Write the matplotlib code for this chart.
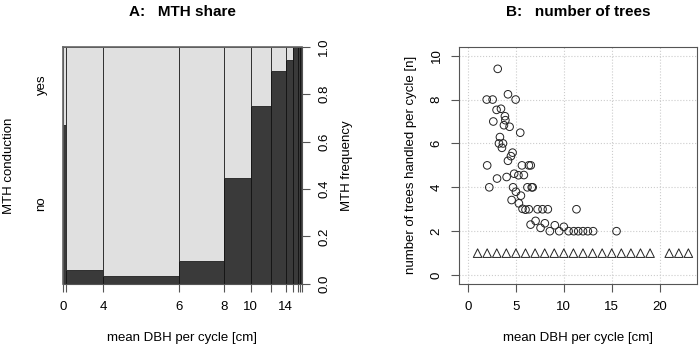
import numpy as np
import matplotlib.pyplot as plt

plt.rcParams['font.family'] = ['Liberation Sans', 'DejaVu Sans']

# spineplot data (panel A)
breaks = [0, 2, 4, 6, 8, 10, 12, 14, 16, 18, 20, 22]
counts = [3, 37, 76, 45, 26, 20, 15, 7, 5, 2, 2]
share_no = [0.67, 0.06, 0.035, 0.095, 0.445, 0.75, 0.90, 0.945, 1.0, 1.0, 1.0]
break_labels = ['0', '', '4', '6', '8', '10', '', '14', '', '', '', '']

# scatter data (panel B)
dbh_multi = [1.95, 2.57, 3.1, 4.17, 4.97, 2.98, 3.44, 3.85, 3.9, 2.64, 3.75, 4.34,
             5.45, 3.33, 3.23, 3.65, 3.54, 4.65, 4.48, 4.17, 2.0, 5.63, 6.35, 6.55,
             3.03, 4.03, 4.82, 5.26, 5.83, 2.22, 4.7, 6.2, 6.65, 6.75, 5.0, 5.52,
             4.55, 5.31, 5.69, 6.0, 6.35, 7.26, 7.78, 8.33, 11.32, 6.53, 7.05, 7.57,
             8.02, 8.54, 9.06, 9.52, 10.0, 10.5, 11.04, 11.5, 12.0, 12.5, 13.06, 15.5]
n_multi = [8.0, 8.0, 9.4, 8.24, 8.0, 7.53, 7.58, 7.24, 7.06, 7.0, 6.83, 6.76,
           6.49, 6.29, 6.0, 6.0, 5.8, 5.58, 5.42, 5.21, 5.0, 5.0, 5.0, 5.0,
           4.4, 4.47, 4.62, 4.55, 4.56, 4.0, 4.0, 4.0, 4.0, 4.0, 3.8, 3.62,
           3.42, 3.27, 3.02, 2.98, 3.0, 3.0, 3.0, 3.0, 3.0, 2.3, 2.47, 2.15,
           2.36, 2.0, 2.27, 2.0, 2.2, 2.0, 2.0, 2.0, 2.0, 2.0, 2.0, 2.0]
dbh_single = [1, 2, 3, 4, 5, 6, 7, 8, 9, 10, 11, 12, 13, 14, 15, 16, 17, 18, 19, 21, 22, 23]
n_single = [1] * len(dbh_single)

fig = plt.figure(figsize=(7, 3.5), dpi=100)
dark = '#3a3a3a'
light = '#e0e0e0'
axcol = '#555555'

# PANEL A: SPINEPLOT
ax1 = fig.add_axes([0.09, 0.189, 0.341, 0.677])
cum = np.concatenate([[0], np.cumsum(counts)]) / float(sum(counts))
for i in range(len(counts)):
    w = cum[i + 1] - cum[i]
    ax1.bar(cum[i], share_no[i], width=w, align='edge', color=dark, edgecolor='#111111', linewidth=0.6)
    ax1.bar(cum[i], 1 - share_no[i], bottom=share_no[i], width=w, align='edge',
            color=light, edgecolor='#222222', linewidth=0.6)
ax1.set_xlim(0, 1)
ax1.set_ylim(0, 1)
for s in ['left', 'top']:
    ax1.spines[s].set_visible(False)
ax1.spines['right'].set_color(axcol)
ax1.spines['bottom'].set_color(axcol)
ax1.plot([0, 1], [1, 1], color='#666666', lw=1.2, clip_on=False, zorder=5)
ax1.plot([0, 0], [0, 1], color='#666666', lw=1.2, clip_on=False, zorder=5)
ax1.set_xticks(cum)
ax1.set_xticklabels(break_labels)
ax1.yaxis.tick_right()
ax1.yaxis.set_label_position('right')
ax1.set_yticks([0, 0.2, 0.4, 0.6, 0.8, 1.0])
ax1.set_yticklabels(['0.0', '0.2', '0.4', '0.6', '0.8', '1.0'], rotation=90, va='center')
ax1.tick_params(axis='both', direction='out', length=6, width=0.8, color=axcol, labelsize=9.5, pad=6)
ax1.set_ylabel('MTH frequency', fontsize=9.5, labelpad=8)
ax1.set_xlabel('mean DBH per cycle [cm]', fontsize=9.5, labelpad=14)
ax1.text(-0.09, 0.34, 'no', rotation=90, ha='center', va='center', fontsize=9.5, transform=ax1.transAxes)
ax1.text(-0.09, 0.84, 'yes', rotation=90, ha='center', va='center', fontsize=9.5, transform=ax1.transAxes)
ax1.text(-0.225, 0.5, 'MTH conduction', rotation=90, ha='center', va='center', fontsize=9.5, transform=ax1.transAxes)
ax1.set_title('A:   MTH share', fontsize=11, fontweight='bold', pad=22)

# PANEL B: SCATTER
ax2 = fig.add_axes([0.656, 0.189, 0.34, 0.677])
ax2.grid(True, color='#cccccc', linestyle=':', linewidth=0.8)
ax2.set_axisbelow(True)
ax2.scatter(dbh_multi, n_multi, s=30, facecolors='none', edgecolors='#222222', linewidths=0.7)
ax2.scatter(dbh_single, n_single, s=38, marker='^', facecolors='none', edgecolors='#222222', linewidths=0.7)
ax2.set_xlim(-0.92, 23.92)
ax2.set_ylim(-0.4, 10.4)
ax2.set_xticks([0, 5, 10, 15, 20])
ax2.set_yticks([0, 2, 4, 6, 8, 10])
ax2.set_yticklabels(['0', '2', '4', '6', '8', '10'], rotation=90, va='center')
for s in ax2.spines.values():
    s.set_color(axcol)
ax2.tick_params(axis='both', direction='out', length=6, width=0.8, color=axcol, labelsize=9.5, pad=6)
ax2.set_xlabel('mean DBH per cycle [cm]', fontsize=9.5, labelpad=14)
ax2.set_ylabel('number of trees handled per cycle [n]', fontsize=9.5, labelpad=10)
ax2.set_title('B:   number of trees', fontsize=11, fontweight='bold', pad=22)

fig.savefig('out.png', dpi=100)
